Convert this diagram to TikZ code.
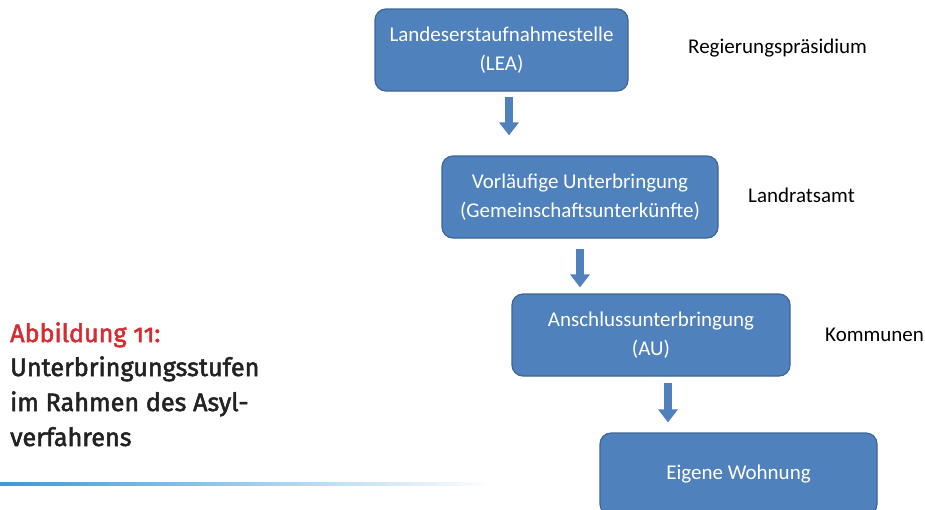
\documentclass[tikz,border=0pt]{standalone}
\usepackage{fontspec}
\setmainfont{Carlito}
\newfontfamily\capfont[Numbers=OldStyle, FakeBold=2]{Fira Sans}
\usetikzlibrary{arrows.meta,calc}
\definecolor{boxblue}{HTML}{4F81BD}
\definecolor{boxedge}{HTML}{3D6697}
\definecolor{capred}{HTML}{D42E34}
\definecolor{captext}{HTML}{222222}
\definecolor{rulecol}{HTML}{3C9AD8}
\begin{document}
\begin{tikzpicture}[x=1pt,y=-1pt,
  stage/.style={draw=boxedge, line width=1.2pt, fill=boxblue, rounded corners=11pt,
    text=white, align=center, inner sep=0pt, minimum height=82pt,
    font=\fontsize{21}{29}\selectfont},
  authority/.style={anchor=west, inner sep=0pt, text=black, font=\fontsize{21}{25}\selectfont},
  flow/.style={draw=boxblue, line width=8pt, -{Triangle[width=19pt,length=13pt]}},
  capline/.style={anchor=base west, inner sep=0pt, text=captext, font=\capfont\fontsize{25.2}{30}\selectfont}
]
\useasboundingbox (0,0) rectangle (925,509);
\clip (0,0) rectangle (925,509);
\fill[white] (0,0) rectangle (925,509);

\node[stage, minimum width=253pt] (lea) at (501.5,50) {Landeserstaufnahmestelle\\(LEA)};
\node[stage, minimum width=276pt] (vu) at (580,197) {Vorläufige Unterbringung\\(Gemeinschaftsunterkünfte)};
\node[stage, minimum width=278pt] (au) at (651,335) {Anschlussunterbringung\\(AU)};
\node[stage, minimum width=277pt] (ew) at (738.5,474) {Eigene Wohnung};

\node[authority] (rp) at (688,48) {Regierungspräsidium};
\node[authority] (lra) at (748,195) {Landratsamt};
\node[authority] (kom) at (825,335) {Kommunen};

\draw[flow] ($(lea.south)+(7.5,5)$) -- ($(vu.north)+(-71,-20)$);
\draw[flow] ($(vu.south)+(0,10)$) -- ($(au.north)+(-71,-6)$);
\draw[flow] ($(au.south)+(17,6)$) -- ($(ew.north)+(-70.5,-10)$);

\node[capline, text=capred] (cap1) at (10,342) {Abbildung 11:};
\node[capline] (cap2) at (10,376) {Unterbringungsstufen};
\node[capline] (cap3) at (10,411) {im Rahmen des Asyl-};
\node[capline] (cap4) at (10,446) {verfahrens};

\shade[left color=rulecol, middle color=rulecol!75, right color=white] (0,482) rectangle (495,485);
\end{tikzpicture}
\end{document}
